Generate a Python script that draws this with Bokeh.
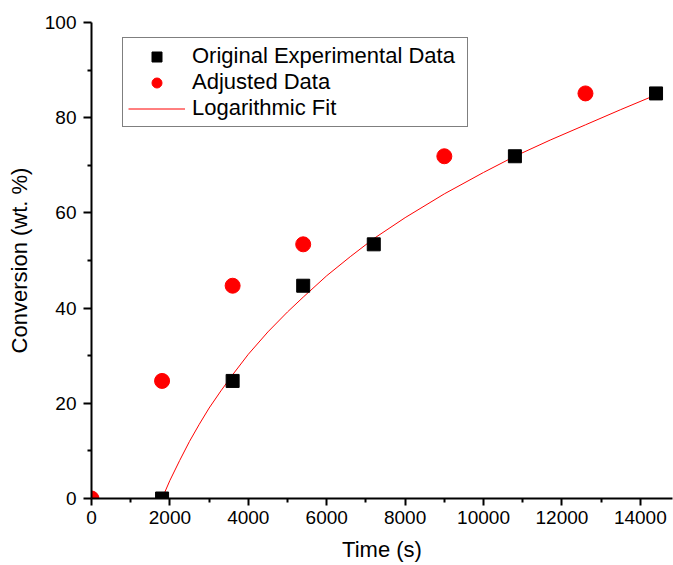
from bokeh.plotting import figure
from bokeh.models import Range1d, Legend, LegendItem, FixedTicker
from bokeh.embed import file_html
from bokeh.resources import INLINE

# Original experimental data
orig_time = [1800, 3600, 5400, 7200, 10800, 14400]
orig_conv = [0.0, 24.7, 44.7, 53.4, 71.9, 85.1]

# Adjusted data (time shifted)
adj_time = [0, 1800, 3600, 5400, 9000, 12600]
adj_conv = [0.0, 24.7, 44.7, 53.4, 71.9, 85.1]

# Logarithmic fit curve
fit_time = [1800, 2000, 2250, 2500, 2750, 3000, 3300, 3600, 4000, 4500, 5000,
            5400, 6000, 6600, 7200, 8000, 9000, 10000, 10800, 11700, 12600,
            13500, 14400]
fit_conv = [0.0, 3.8, 8.0, 12.0, 15.6, 19.0, 22.6, 26.0, 30.3, 35.0, 39.2,
            42.3, 46.8, 50.8, 54.6, 59.0, 64.0, 68.5, 71.9, 75.3, 78.5,
            81.7, 84.8]

x_ticks = [0, 2000, 4000, 6000, 8000, 10000, 12000, 14000]
x_minor = [1000, 3000, 5000, 7000, 9000, 11000, 13000]
y_ticks = [0, 20, 40, 60, 80, 100]
y_minor = [10, 30, 50, 70, 90]

FONT = "Liberation Sans"

p = figure(width=673, height=565, output_backend="svg", toolbar_location=None,
           x_range=Range1d(0, 14820), y_range=Range1d(0, 100),
           min_border_left=91, min_border_right=1, min_border_top=22,
           min_border_bottom=67)
p.background_fill_color = "white"
p.border_fill_color = "white"
p.outline_line_color = None
p.xgrid.visible = False
p.ygrid.visible = False

fit_r = p.line(fit_time, fit_conv, line_color="#ff0000", line_width=1)
orig_r = p.scatter(orig_time, orig_conv, marker="square", size=13,
                   fill_color="black", line_color="black")
adj_r = p.scatter(adj_time, adj_conv, marker="circle", size=15,
                  fill_color="#ff0000", line_color="#ff0000")

for ax, ticks, minor, tick_len in ((p.xaxis[0], x_ticks, x_minor, 7),
                                   (p.yaxis[0], y_ticks, y_minor, 8)):
    ax.ticker = FixedTicker(ticks=ticks, minor_ticks=minor)
    ax.axis_line_color = "black"
    ax.axis_line_width = 2
    ax.major_tick_line_color = "black"
    ax.major_tick_line_width = 2
    ax.minor_tick_line_color = "black"
    ax.minor_tick_line_width = 2
    ax.major_tick_in = 0
    ax.major_tick_out = tick_len
    ax.minor_tick_in = 0
    ax.minor_tick_out = 4
    ax.major_label_text_font = FONT
    ax.major_label_text_font_size = "19px"
    ax.major_label_text_color = "black"
    ax.axis_label_text_font = FONT
    ax.axis_label_text_font_size = "22px"
    ax.axis_label_text_font_style = "normal"
    ax.axis_label_text_color = "black"

p.xaxis[0].axis_label = "Time (s)"
p.yaxis[0].axis_label = "Conversion (wt. %)"
p.xaxis[0].major_label_standoff = 5
p.xaxis[0].axis_label_standoff = 10
p.yaxis[0].major_label_standoff = 7
p.yaxis[0].axis_label_standoff = 10

legend = Legend(items=[
    LegendItem(label="Original Experimental Data", renderers=[orig_r]),
    LegendItem(label="Adjusted Data", renderers=[adj_r]),
    LegendItem(label="Logarithmic Fit", renderers=[fit_r]),
], location=(31, 371))
legend.label_text_font = FONT
legend.label_text_font_size = "22px"
legend.label_text_color = "black"
legend.padding = 5
legend.spacing = 0
legend.margin = 0
legend.label_height = 25
legend.glyph_height = 25
legend.glyph_width = 57
legend.label_standoff = 7
legend.label_width = 270
legend.border_line_color = "black"
legend.border_line_width = 1
legend.background_fill_color = "white"
legend.background_fill_alpha = 1.0
p.add_layout(legend, "center")

open("out.html", "w").write(file_html(p, INLINE))
